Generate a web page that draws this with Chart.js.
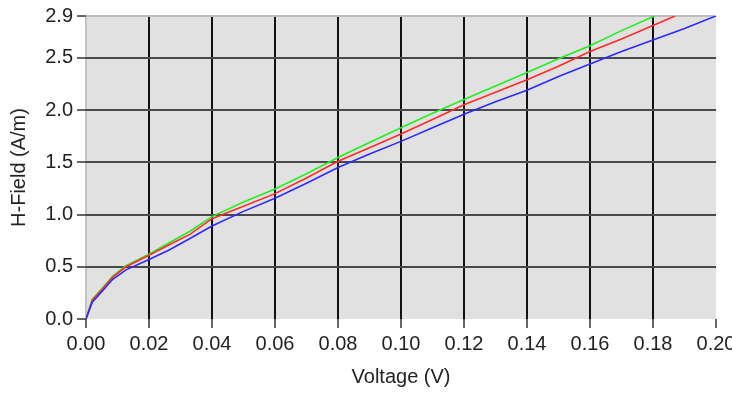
<!DOCTYPE html>
<html>
<head>
<meta charset="utf-8">
<script src="https://cdn.jsdelivr.net/npm/chart.js@4.4.1/dist/chart.umd.min.js"></script>
<style>
  html, body { margin: 0; padding: 0; background: #fff; }
  #wrap { width: 732px; height: 396px; }
</style>
</head>
<body>
<div id="wrap"><canvas id="c" width="732" height="396"></canvas></div>
<script>
// values
const xTicks = [0, 0.02, 0.04, 0.06, 0.08, 0.10, 0.12, 0.14, 0.16, 0.18, 0.20];
const yTicks = [0, 0.5, 1.0, 1.5, 2.0, 2.5, 2.9];

const greenV = [0, 0.002, 0.005, 0.0085, 0.0127, 0.02, 0.0264, 0.033, 0.04, 0.05, 0.06, 0.07, 0.08, 0.09, 0.10, 0.11, 0.12, 0.13, 0.14, 0.15, 0.16, 0.17, 0.1805];
const greenH = [0, 0.19, 0.29, 0.41, 0.51, 0.62, 0.73, 0.84, 0.98, 1.12, 1.245, 1.39, 1.545, 1.69, 1.83, 1.97, 2.10, 2.23, 2.36, 2.49, 2.615, 2.76, 2.90];

const redV = [0, 0.002, 0.005, 0.0085, 0.0127, 0.02, 0.0264, 0.033, 0.04, 0.05, 0.06, 0.07, 0.08, 0.09, 0.10, 0.11, 0.12, 0.13, 0.14, 0.15, 0.16, 0.17, 0.18, 0.187];
const redH = [0, 0.18, 0.28, 0.40, 0.50, 0.61, 0.71, 0.81, 0.96, 1.08, 1.20, 1.35, 1.51, 1.64, 1.77, 1.91, 2.05, 2.17, 2.29, 2.42, 2.56, 2.68, 2.81, 2.90];

const blueV = [0, 0.002, 0.005, 0.0085, 0.0127, 0.02, 0.0264, 0.033, 0.04, 0.05, 0.06, 0.07, 0.08, 0.09, 0.10, 0.11, 0.12, 0.13, 0.14, 0.15, 0.16, 0.17, 0.18, 0.19, 0.20];
const blueH = [0, 0.16, 0.26, 0.38, 0.47, 0.57, 0.66, 0.77, 0.89, 1.03, 1.155, 1.30, 1.45, 1.58, 1.70, 1.83, 1.96, 2.08, 2.19, 2.32, 2.44, 2.56, 2.67, 2.78, 2.90];

const pts = (xs, ys) => xs.map((x, i) => ({ x: x, y: ys[i] }));

const plotBg = {
  id: 'plotBg',
  beforeDraw(chart) {
    const a = chart.chartArea, ctx = chart.ctx;
    ctx.save();
    ctx.fillStyle = '#e1e1e1';
    ctx.fillRect(a.left, a.top, a.right - a.left, a.bottom - a.top);
    ctx.restore();
  }
};

const font = { family: 'Arial, "Liberation Sans", sans-serif', size: 20 };

function line(data, color) {
  return {
    data: data,
    borderColor: color,
    borderWidth: 1.6,
    pointRadius: 0,
    tension: 0,
    fill: false
  };
}

new Chart(document.getElementById('c'), {
  type: 'scatter',
  data: {
    datasets: [
      line(pts(blueV, blueH), '#2a2aff'),
      line(pts(redV, redH), '#ff2a2a'),
      line(pts(greenV, greenH), '#22ee22')
    ]
  },
  options: {
    responsive: false,
    animation: false,
    showLine: true,
    layout: { padding: { top: 16, right: 16, left: 0, bottom: 0 } },
    plugins: { legend: { display: false }, tooltip: { enabled: false } },
    scales: {
      x: {
        type: 'linear',
        min: 0, max: 0.2,
        afterBuildTicks(s) { s.ticks = xTicks.map(v => ({ value: v })); },
        afterFit(s) { s.height = 77; s.paddingLeft = 0; s.paddingRight = 0; },
        border: { display: false },
        grid: {
          color: c => (c.index === 0 ? '#c4c4c4' : (c.index === xTicks.length - 1 ? 'rgba(0,0,0,0)' : '#111')),
          lineWidth: 2,
          tickColor: '#333',
          tickLength: 9,
          tickWidth: 1.5
        },
        ticks: {
          color: '#222',
          font: font,
          padding: 4,
          maxRotation: 0,
          callback: v => v.toFixed(2)
        },
        title: {
          display: true,
          text: 'Voltage (V)',
          color: '#222',
          font: font,
          padding: { top: 4, bottom: 7 }
        }
      },
      y: {
        type: 'linear',
        min: 0, max: 2.9,
        afterBuildTicks(s) { s.ticks = yTicks.map(v => ({ value: v })); },
        afterFit(s) { s.width = 86; s.paddingTop = 0; s.paddingBottom = 0; },
        border: { display: false },
        grid: {
          color: c => (c.index === 0 ? 'rgba(0,0,0,0)' : (c.index === yTicks.length - 1 ? '#bdbdbd' : '#4a4a4a')),
          lineWidth: 2,
          tickColor: '#333',
          tickLength: 9,
          tickWidth: 1.5
        },
        ticks: {
          color: '#222',
          font: font,
          padding: 4,
          callback: v => v.toFixed(1)
        },
        title: {
          display: true,
          text: 'H-Field (A/m)',
          color: '#222',
          font: font,
          padding: { top: 7, bottom: 0 }
        }
      }
    }
  },
  plugins: [plotBg]
});
</script>
</body>
</html>
